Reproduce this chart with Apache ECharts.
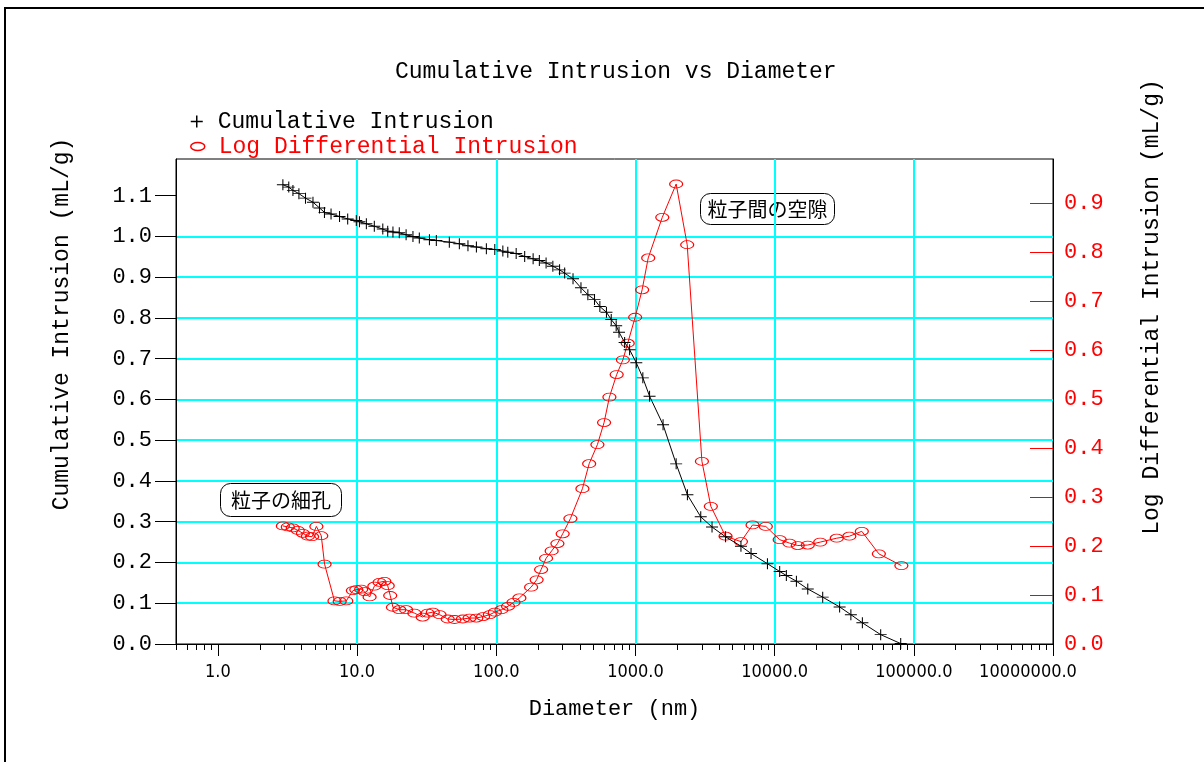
<!DOCTYPE html>
<html><head><meta charset="utf-8">
<script src="https://cdn.jsdelivr.net/npm/echarts@6/dist/echarts.min.js"></script>
<style>html,body{margin:0;padding:0;background:#fff}#c{width:1204px;height:762px}</style>
</head><body><div id="c"></div>
<script>
// ---- data ----
const cumDiam = [2.93,3.23,3.46,3.82,4.26,4.82,5.37,5.83,6.5,7.48,8.56,9.87,10.4,11.66,13.3,15.3,16.6,18.1,20.1,22.5,25.2,28.0,33.1,37.1,46.0,54.3,62.6,72.0,84.9,97.6,111.5,121,139,160,184,204,228,255,285,310,356,406,455,508,555,619,670,727,762,836,908,1014,1130,1263,1579,1961,2363,2945,3550,4440,5728,6770,8880,10870,12140,14340,17300,22150,29300,35300,42700,57800,80500];
const cumVal = [1.127,1.121,1.113,1.105,1.094,1.084,1.070,1.059,1.055,1.049,1.043,1.039,1.036,1.031,1.025,1.018,1.013,1.011,1.009,1.004,1.000,0.996,0.992,0.990,0.986,0.982,0.977,0.974,0.970,0.968,0.964,0.961,0.958,0.951,0.945,0.941,0.935,0.927,0.918,0.910,0.896,0.874,0.857,0.845,0.828,0.814,0.796,0.781,0.765,0.740,0.722,0.690,0.653,0.608,0.538,0.442,0.366,0.312,0.287,0.263,0.240,0.222,0.197,0.178,0.168,0.154,0.135,0.115,0.091,0.072,0.052,0.023,0.001];
const ldDiam = [2.93,3.18,3.45,3.75,4.08,4.43,4.75,5.10,5.53,5.84,6.88,7.50,8.36,9.33,9.87,10.7,11.3,12.3,13.3,14.5,15.7,16.6,17.3,18.1,20.1,22.5,25.8,29.6,32.2,35.0,39.1,44.8,50.1,57.5,64.3,71.9,80.4,89.9,97.6,108.9,121.5,133,146.6,178,195,210,228,250,275,300,341,416,465,533,595,650,733,812,880,995,1117,1235,1559,1961,2354,3003,3480,4440,5728,6940,8640,10870,12770,14660,17300,21260,27940,34400,42300,56100,81400];
const ldVal = [0.241,0.239,0.237,0.232,0.226,0.220,0.219,0.240,0.221,0.163,0.088,0.087,0.088,0.109,0.111,0.112,0.107,0.096,0.118,0.126,0.128,0.119,0.099,0.075,0.070,0.070,0.063,0.055,0.063,0.065,0.060,0.051,0.050,0.051,0.053,0.053,0.056,0.060,0.065,0.070,0.077,0.085,0.094,0.116,0.131,0.152,0.175,0.19,0.205,0.225,0.256,0.317,0.368,0.407,0.452,0.504,0.550,0.580,0.614,0.667,0.723,0.788,0.871,0.939,0.815,0.373,0.281,0.220,0.209,0.243,0.240,0.213,0.206,0.201,0.202,0.208,0.216,0.220,0.230,0.184,0.160];

const xTickValues = [1,10,100,1000,10000,100000,1000000];
const xTickLabels = ['1.0','10.0','100.0','1000.0','10000.0','100000.0','10000000.0'];
const xMinorTicks = [0.5,0.6,0.7,0.8,0.9,
  2,3,4,5,6,7,8,9, 20,30,40,50,60,70,80,90, 200,300,400,500,600,700,800,900,
  2000,3000,4000,5000,6000,7000,8000,9000, 20000,30000,40000,50000,60000,70000,80000,90000,
  200000,300000,400000,500000,600000,700000,800000,900000];
const leftTicks = [0,0.1,0.2,0.3,0.4,0.5,0.6,0.7,0.8,0.9,1.0,1.1];
// red ticks of the right axis (the one at 0.5 is hidden under a grid line in the reference)
const rightTicks = [0.1,0.2,0.3,0.4,0.6,0.7,0.8,0.9];
const rightLabelVals = [0,0.1,0.2,0.3,0.4,0.5,0.6,0.7,0.8,0.9];

const seriesNames = ['Cumulative Intrusion','Log Differential Intrusion'];
const titleText = 'Cumulative Intrusion vs Diameter';
const leftName = 'Cumulative Intrusion (mL/g)';
const rightName = 'Log Differential Intrusion (mL/g)';
const xName = 'Diameter (nm)';
const notes = ['粒子の細孔','粒子間の空隙'];

// ---- chart ----
const MONO = '"Liberation Mono","DejaVu Sans Mono",monospace';
const COND = '"DejaVu Sans Condensed","DejaVu Sans Mono",monospace';
const plusPath = 'path://M0,5H10M5,0V10';
const ovalPath = 'path://M0,4A7,4 0 1 1 14,4A7,4 0 1 1 0,4Z';

const chart = echarts.init(document.getElementById('c'), null, {renderer:'canvas'});
chart.setOption({
  animation:false,
  backgroundColor:'#fff',
  title:{text:titleText,left:390,top:55,textStyle:{fontFamily:MONO,fontSize:23,fontWeight:'normal',color:'#000'}},
  legend:[
    {left:185,top:105,orient:'vertical',itemWidth:14,itemHeight:12,selectedMode:false,
     data:[{name:seriesNames[0],icon:plusPath,itemStyle:{color:'transparent',borderColor:'#000',borderWidth:1.5},
            textStyle:{color:'#000'}}],
     textStyle:{fontFamily:MONO,fontSize:23,padding:[0,0,0,9]}},
    {left:185,top:130,orient:'vertical',itemWidth:14,itemHeight:8,selectedMode:false,
     data:[{name:seriesNames[1],icon:ovalPath,itemStyle:{color:'transparent',borderColor:'#ff0000',borderWidth:1.5},
            textStyle:{color:'#ff0000'}}],
     textStyle:{fontFamily:MONO,fontSize:23,padding:[0,0,0,9]}}
  ],
  grid:{left:176,right:151,top:159,bottom:118,show:true,borderColor:'#000',borderWidth:1,backgroundColor:'#fff',containLabel:false},
  xAxis:[
    {type:'log',min:0.5,max:1000000,position:'bottom',
     name:xName,nameLocation:'middle',nameGap:54,
     nameTextStyle:{fontFamily:MONO,fontSize:22,color:'#000'},
     axisLine:{show:true,onZero:false,lineStyle:{color:'#000',width:1}},
     axisTick:{show:true,inside:false,length:12,customValues:xTickValues,lineStyle:{color:'#000',width:1}},
     axisLabel:{show:true,customValues:xTickValues,margin:19,color:'#000',
       fontFamily:COND,fontSize:18,
       formatter:function(v){
         const i = Math.round(Math.log10(v));
         const s = xTickLabels[i] || '';
         return i === xTickLabels.length-1 ? '{last|'+s+'}' : s;
       },
       rich:{last:{fontFamily:COND,fontSize:18,color:'#000',padding:[0,50,0,0]}}},
     splitLine:{show:true,showMinLine:false,showMaxLine:false,lineStyle:{color:'#00ffff',width:2}}},
    {type:'log',min:0.5,max:1000000,position:'bottom',
     axisLine:{show:false},
     axisTick:{show:true,inside:false,length:6,customValues:xMinorTicks,lineStyle:{color:'#000',width:1}},
     axisLabel:{show:false},splitLine:{show:false}}
  ],
  yAxis:[
    {type:'value',min:0,max:1.19,interval:0.1,position:'left',
     axisLine:{show:true,lineStyle:{color:'#000',width:1}},
     axisTick:{show:true,inside:false,length:21,customValues:leftTicks,lineStyle:{color:'#000',width:1}},
     axisLabel:{customValues:leftTicks,margin:24,color:'#000',fontFamily:MONO,fontSize:22,
       formatter:function(v){return v.toFixed(1);}},
     splitLine:{show:true,showMinLine:false,showMaxLine:false,lineStyle:{color:'#00ffff',width:2}}},
    {type:'value',min:0,max:0.99,interval:0.1,position:'right',
     axisLine:{show:true,lineStyle:{color:'#000',width:1}},
     axisTick:{show:true,inside:true,length:23,customValues:rightTicks,lineStyle:{color:'#ff0000',width:1}},
     axisLabel:{customValues:rightLabelVals,margin:11,color:'#ff0000',fontFamily:MONO,fontSize:22,
       formatter:function(v){return v.toFixed(1);}},
     splitLine:{show:false}}
  ],
  series:[
    {name:seriesNames[0],type:'line',xAxisIndex:0,yAxisIndex:0,
     data:cumDiam.map((d,i)=>[d,cumVal[i]]),
     symbol:plusPath,symbolSize:[12,11],
     itemStyle:{color:'transparent',borderColor:'#000',borderWidth:1},
     lineStyle:{color:'#000',width:1},z:3},
    {name:seriesNames[1],type:'line',xAxisIndex:0,yAxisIndex:1,
     data:ldDiam.map((d,i)=>[d,ldVal[i]]),
     symbol:ovalPath,symbolSize:[13,8],
     itemStyle:{color:'transparent',borderColor:'#ff0000',borderWidth:1},
     lineStyle:{color:'#ff0000',width:1},z:2}
  ],
  graphic:[
    {type:'rect',z:-10,silent:true,shape:{x:5,y:8,width:1300,height:800},style:{fill:'none',stroke:'#000',lineWidth:2}},
    {type:'text',x:62,y:324,rotation:Math.PI/2,silent:true,
     style:{text:leftName,align:'center',verticalAlign:'middle',font:'23px '+MONO,fill:'#000'}},
    {type:'text',x:1152,y:307,rotation:Math.PI/2,silent:true,
     style:{text:rightName,align:'center',verticalAlign:'middle',font:'23px '+MONO,fill:'#000'}},
    {type:'group',z:50,children:[
      {type:'rect',shape:{x:220.5,y:483.5,width:121,height:33,r:10},style:{fill:'#fff',stroke:'#000',lineWidth:1}},
      {type:'text',x:281,y:500,style:{text:notes[0],align:'center',verticalAlign:'middle',font:'20px "Noto Sans CJK JP"',fill:'#000'}}
    ]},
    {type:'group',z:50,children:[
      {type:'rect',shape:{x:700.5,y:193.5,width:134,height:31,r:10},style:{fill:'#fff',stroke:'#000',lineWidth:1}},
      {type:'text',x:767.5,y:209,style:{text:notes[1],align:'center',verticalAlign:'middle',font:'20px "Noto Sans CJK JP"',fill:'#000'}}
    ]}
  ]
});
</script></body></html>
